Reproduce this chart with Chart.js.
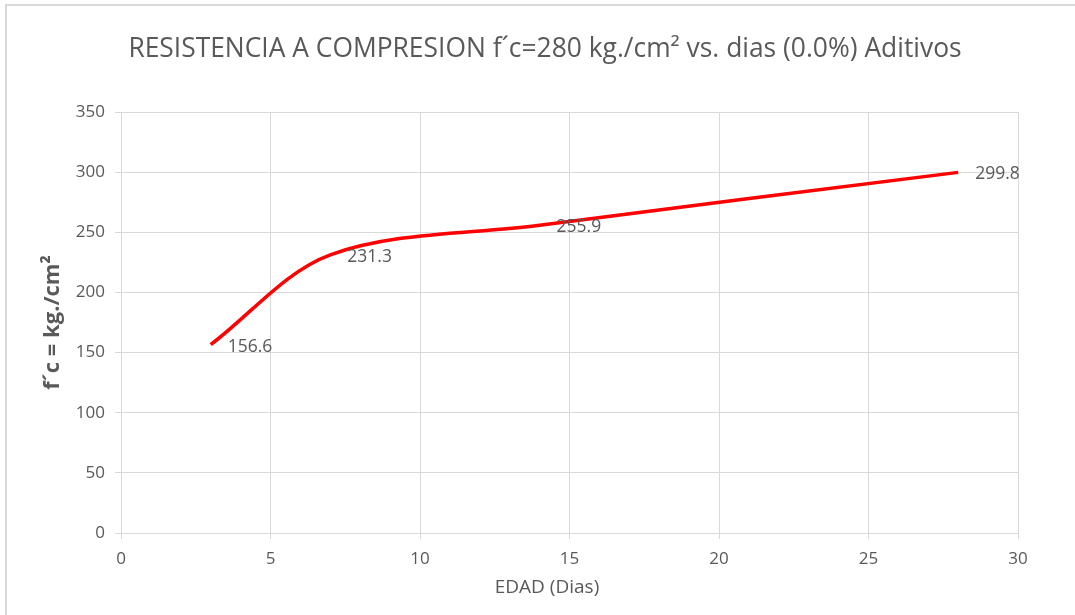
<!DOCTYPE html>
<html>
<head>
<meta charset="utf-8">
<script src="https://cdn.jsdelivr.net/npm/chart.js@4.4.1/dist/chart.umd.min.js"></script>
<style>
  html, body { margin: 0; padding: 0; background: #fff; overflow: hidden; }
</style>
</head>
<body>
<canvas id="chart" width="1075" height="615"></canvas>
<script>
// datos
const dias = [3, 7, 14, 28];
const resistencia = [156.6, 231.3, 255.9, 299.8];
const titulo = 'RESISTENCIA A COMPRESION f\u00b4c=280 kg./cm\u00b2 vs. dias (0.0%) Aditivos';
const tituloX = 'EDAD (Dias)';
const tituloY = 'f\u00b4c = kg./cm\u00b2';

const FONT = '"Open Sans", sans-serif';
const GRIS = '#595959';
const GRID = '#d9d9d9';

// marco gris alrededor del grafico
const marco = {
  id: 'marco',
  beforeDraw(chart) {
    const ctx = chart.ctx;
    ctx.save();
    ctx.strokeStyle = GRID;
    ctx.lineWidth = 2;
    ctx.strokeRect(6, 5, 1200, 800);
    ctx.restore();
  }
};

// etiquetas de valores a la derecha de cada punto
const etiquetas = {
  id: 'etiquetas',
  afterDatasetsDraw(chart) {
    const ctx = chart.ctx;
    const meta = chart.getDatasetMeta(0);
    ctx.save();
    ctx.font = '17.5px ' + FONT;
    ctx.fillStyle = GRIS;
    ctx.textAlign = 'left';
    ctx.textBaseline = 'middle';
    meta.data.forEach((pt, i) => {
      ctx.fillText(resistencia[i].toFixed(1), pt.x + 17, pt.y + 2);
    });
    ctx.restore();
  }
};

// titulo general y titulo del eje x, centrados sobre todo el grafico
const textos = {
  id: 'textos',
  afterDraw(chart) {
    const ctx = chart.ctx;
    ctx.save();
    ctx.fillStyle = GRIS;
    ctx.textAlign = 'center';
    ctx.textBaseline = 'middle';
    ctx.font = '26.4px ' + FONT;
    ctx.fillText(titulo, 545, 49);
    ctx.font = '19px ' + FONT;
    ctx.fillText(tituloX, 547, 588);
    ctx.restore();
  }
};

new Chart(document.getElementById('chart'), {
  type: 'line',
  data: {
    datasets: [{
      data: dias.map((d, i) => ({ x: d, y: resistencia[i] })),
      borderColor: '#ff0000',
      borderWidth: 3.5,
      pointRadius: 0,
      tension: 0.33,
      fill: false
    }]
  },
  options: {
    responsive: false,
    animation: false,
    layout: { padding: { left: 0, right: 57, top: 112, bottom: 0 } },
    plugins: {
      legend: { display: false },
      tooltip: { enabled: false },
      title: { display: false }
    },
    scales: {
      x: {
        type: 'linear',
        min: 0,
        max: 30,
        afterFit: (s) => { s.height = 82; },
        ticks: { stepSize: 5, color: GRIS, padding: 10, font: { family: FONT, size: 17 } },
        grid: { color: GRID, tickLength: 6, tickColor: GRID },
        border: { color: GRID }
      },
      y: {
        min: 0,
        max: 350,
        afterFit: (s) => { s.width = 121; },
        ticks: { stepSize: 50, color: GRIS, padding: 10, font: { family: FONT, size: 17 } },
        grid: { color: GRID, tickLength: 6, tickColor: GRID },
        border: { color: GRID },
        title: {
          display: true,
          text: tituloY,
          color: GRIS,
          font: { family: FONT, size: 22, weight: 'bold' },
          padding: { top: 40, bottom: 0 }
        }
      }
    }
  },
  plugins: [marco, etiquetas, textos]
});
</script>
</body>
</html>
